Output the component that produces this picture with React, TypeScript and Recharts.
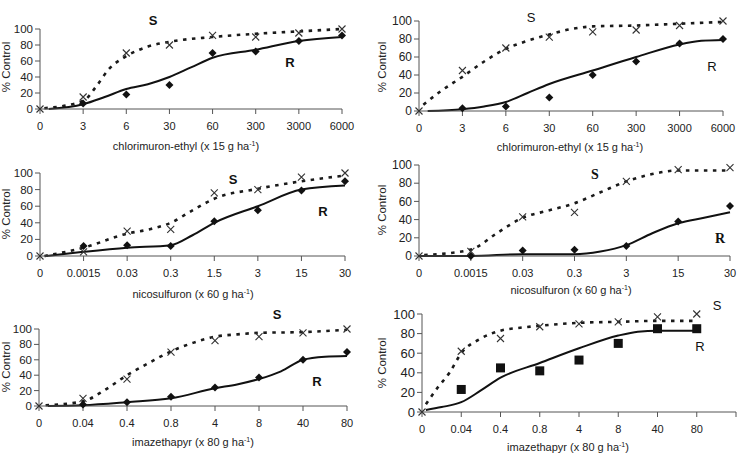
import React from "react";
import { ComposedChart, Line, XAxis, YAxis } from "recharts";

// dose categories (tick labels)
const CHLOR_CATS = ["0", "3", "6", "30", "60", "300", "3000", "6000"];
const NICO_CATS_A = ["0", "0.0015", "0.03", "0.3", "1.5", "3", "15", "30"];
const NICO_CATS_B = ["0", "0.0015", "0.03", "0.3", "3", "15", "30"];
const IMAZ_CATS = ["0", "0.04", "0.4", "0.8", "4", "8", "40", "80"];
const IMAZ_CATS_B = ["0", "0.04", "0.4", "0.8", "4", "8", "40", "80", ""];

// panel 1 - chlorimuron, left
const P1_S_OBS = [0, 15, 70, 80, 92, 90, 95, 100];
const P1_R_OBS = [null, 7, 18, 30, 70, 72, 85, 92];
const P1_S_FIT_X = [0.1, 1, 1.3, 1.6, 2, 2.5, 3, 4, 5, 6, 7];
const P1_S_FIT_Y = [1, 10, 28, 50, 66, 78, 84, 90, 94, 97, 100];
const P1_R_FIT_X = [0.2, 1, 1.5, 2, 2.5, 3, 3.5, 4, 5, 6, 7];
const P1_R_FIT_Y = [0, 6, 15, 25, 31, 40, 52, 64, 74, 85, 90];

// panel 2 - chlorimuron, right
const P2_S_OBS = [0, 45, 70, 82, 88, 90, 95, 100];
const P2_R_OBS = [null, 3, 5, 15, 40, 55, 75, 80];
const P2_S_FIT_X = [0.1, 0.5, 1, 1.5, 2, 2.5, 3, 3.5, 4, 5, 6, 7];
const P2_S_FIT_Y = [7, 22, 38, 55, 69, 78, 85, 91, 94, 95, 97, 99];
const P2_R_FIT_X = [0.2, 1, 1.5, 2, 2.5, 3, 4, 5, 6, 6.5, 7];
const P2_R_FIT_Y = [0, 2, 5, 10, 20, 30, 45, 60, 74, 78, 79];

// panel 3 - nicosulfuron, left
const P3_S_OBS = [0, 5, 30, 32, 76, 80, 95, 100];
const P3_R_OBS = [null, 12, 13, 12, 42, 55, 79, 90];
const P3_S_FIT_X = [0.1, 0.5, 1, 2, 2.5, 3, 3.5, 4, 5, 6, 7];
const P3_S_FIT_Y = [0, 4, 10, 27, 32, 40, 55, 69, 81, 90, 97];
const P3_R_FIT_X = [0.15, 1, 2, 3, 3.5, 4, 5, 6, 7];
const P3_R_FIT_Y = [0, 5, 10, 13, 25, 40, 60, 80, 85];

// panel 4 - nicosulfuron, right
const P4_S_OBS = [0, 5, 43, 48, 82, 95, 97];
const P4_R_OBS = [null, 0, 6, 7, 11, 38, 55];
const P4_S_FIT_X = [0.1, 1, 1.5, 2, 2.5, 3, 3.5, 4, 4.5, 5, 6];
const P4_S_FIT_Y = [1, 7, 25, 42, 50, 58, 70, 82, 90, 94, 94];
const P4_R_FIT_X = [0, 1, 2, 3, 3.5, 4, 4.5, 5, 5.5, 6];
const P4_R_FIT_Y = [0, 0, 2, 2, 5, 12, 25, 36, 42, 48];

// panel 5 - imazethapyr, left
const P5_S_OBS = [0, 10, 35, 70, 85, 90, 95, 100];
const P5_R_OBS = [null, 2, 5, 12, 24, 37, 60, 70];
const P5_S_FIT_X = [0.15, 1, 1.5, 2, 2.5, 3, 3.5, 4, 4.5, 5, 6, 7];
const P5_S_FIT_Y = [1, 6, 21, 40, 56, 71, 82, 90, 93, 95, 96, 99];
const P5_R_FIT_X = [0.2, 1, 2, 3, 4, 4.5, 5, 5.5, 6, 6.5, 7];
const P5_R_FIT_Y = [0, 1, 5, 10, 23, 28, 35, 45, 60, 64, 65];

// panel 6 - imazethapyr, right
const P6_S_OBS = [0, 62, 75, 87, 90, 92, 97, 100];
const P6_R_OBS = [null, 23, 45, 42, 53, 70, 85, 85];
const P6_S_FIT_X = [0.1, 0.4, 0.7, 1, 1.5, 2, 2.5, 3, 4, 5, 6, 7];
const P6_S_FIT_Y = [8, 25, 40, 60, 75, 83, 86, 88, 91, 92, 93, 93];
const P6_R_FIT_X = [0.1, 0.5, 1, 1.5, 2, 3, 4, 5, 5.5, 6, 7];
const P6_R_FIT_Y = [2, 5, 10, 22, 35, 50, 65, 78, 82, 83, 83];

const FONT = "'Liberation Sans', Arial, sans-serif";
const Y_TICKS = [0, 20, 40, 60, 80, 100];

const toPoints = (ys: (number | null)[]) =>
  ys.map((y, i) => ({ x: i, y })).filter((d) => d.y !== null);
const toFit = (xs: number[], ys: number[]) => xs.map((x, i) => ({ x, y: ys[i] }));

const crossDot = (p: any) => {
  const { cx, cy, index } = p;
  if (cx == null || cy == null) return <g key={index} />;
  const s = 3.5;
  return (
    <path
      key={index}
      d={`M${cx - s},${cy - s}L${cx + s},${cy + s}M${cx + s},${cy - s}L${cx - s},${cy + s}`}
      stroke="#333"
      strokeWidth={1.1}
      fill="none"
    />
  );
};

const diamondDot = (p: any) => {
  const { cx, cy, index } = p;
  if (cx == null || cy == null) return <g key={index} />;
  const s = 4;
  return <path key={index} d={`M${cx},${cy - s}L${cx + s},${cy}L${cx},${cy + s}L${cx - s},${cy}Z`} fill="#111" />;
};

const squareDot = (p: any) => {
  const { cx, cy, index } = p;
  if (cx == null || cy == null) return <g key={index} />;
  return <rect key={index} x={cx - 4.5} y={cy - 4.5} width={9} height={9} fill="#111" />;
};

type PanelProps = {
  x0: number;
  x1: number;
  y100: number;
  y0: number;
  cats: string[];
  sObs: (number | null)[];
  rObs: (number | null)[];
  sFitX: number[];
  sFitY: number[];
  rFitX: number[];
  rFitY: number[];
  square?: boolean;
  yFont?: number;
};

function Panel(props: PanelProps) {
  const { x0, x1, y100, y0, cats } = props;
  const yw = 45;
  const top = 8;
  const xh = 30;
  const right = 18;
  const maxX = cats.length - 1;
  const ticks = cats.map((_, i) => i);
  const width = x1 - x0 + yw + right;
  const height = y0 - y100 + top + xh;
  return (
    <div style={{ position: "absolute", left: x0 - yw, top: y100 - top }}>
      <ComposedChart width={width} height={height} margin={{ top, right, left: 0, bottom: 0 }}>
        <XAxis
          type="number"
          dataKey="x"
          domain={[0, maxX]}
          ticks={ticks}
          interval={0}
          tickFormatter={(v) => cats[v] ?? ""}
          tick={{ fontSize: 11, fill: "#222", fontFamily: FONT }}
          tickSize={5}
          tickMargin={8}
          stroke="#555"
          height={xh}
        />
        <YAxis
          type="number"
          domain={[0, 100]}
          ticks={Y_TICKS}
          interval={0}
          tick={{ fontSize: props.yFont ?? 11.5, fill: "#222", fontFamily: FONT }}
          tickSize={5}
          stroke="#555"
          width={yw}
        />
        <Line
          data={toFit(props.sFitX, props.sFitY)}
          dataKey="y"
          type="monotone"
          stroke="#1a1a1a"
          strokeWidth={2.6}
          strokeDasharray="3.5 5.5"
          dot={false}
          isAnimationActive={false}
        />
        <Line
          data={toFit(props.rFitX, props.rFitY)}
          dataKey="y"
          type="monotone"
          stroke="#111"
          strokeWidth={2}
          dot={false}
          isAnimationActive={false}
        />
        <Line
          data={toPoints(props.sObs)}
          dataKey="y"
          stroke="none"
          dot={crossDot}
          activeDot={false}
          isAnimationActive={false}
        />
        <Line
          data={toPoints(props.rObs)}
          dataKey="y"
          stroke="none"
          dot={props.square ? squareDot : diamondDot}
          activeDot={false}
          isAnimationActive={false}
        />
      </ComposedChart>
    </div>
  );
}

function Label({ x, y, text, bold, serif, size = 13 }: any) {
  return (
    <div
      style={{
        position: "absolute",
        left: x,
        top: y,
        transform: "translate(-50%, -50%)",
        fontFamily: serif ? "'Liberation Serif', 'Times New Roman', serif" : FONT,
        fontWeight: bold ? "bold" : "normal",
        fontSize: size,
        color: "#111",
        whiteSpace: "nowrap",
        lineHeight: 1,
      }}
    >
      {text}
    </div>
  );
}

function Title({ x, y, name, rate }: any) {
  return (
    <div
      style={{
        position: "absolute",
        left: x,
        top: y,
        transform: "translate(-50%, -50%)",
        fontFamily: FONT,
        fontSize: 11,
        color: "#222",
        whiteSpace: "nowrap",
        lineHeight: 1,
      }}
    >
      {name} (x {rate} g ha<sup style={{ fontSize: 7 }}>-1</sup>)
    </div>
  );
}

function YTitle({ x, y }: any) {
  return (
    <div
      style={{
        position: "absolute",
        left: x,
        top: y,
        transform: "translate(-50%, -50%) rotate(-90deg)",
        fontFamily: FONT,
        fontSize: 11.5,
        color: "#222",
        whiteSpace: "nowrap",
        lineHeight: 1,
      }}
    >
      % Control
    </div>
  );
}

export default function App() {
  return (
    <div
      style={{
        position: "absolute",
        left: 0,
        top: 0,
        width: 741,
        height: 460,
        overflow: "hidden",
        background: "#fff",
      }}
    >
      <Panel x0={40} x1={342} y100={29} y0={109} cats={CHLOR_CATS} sObs={P1_S_OBS} rObs={P1_R_OBS}
        sFitX={P1_S_FIT_X} sFitY={P1_S_FIT_Y} rFitX={P1_R_FIT_X} rFitY={P1_R_FIT_Y} />
      <Panel x0={419} x1={723} y100={21} y0={111} cats={CHLOR_CATS} sObs={P2_S_OBS} rObs={P2_R_OBS}
        sFitX={P2_S_FIT_X} sFitY={P2_S_FIT_Y} rFitX={P2_R_FIT_X} rFitY={P2_R_FIT_Y} yFont={12} />
      <Panel x0={40} x1={345} y100={173} y0={256} cats={NICO_CATS_A} sObs={P3_S_OBS} rObs={P3_R_OBS}
        sFitX={P3_S_FIT_X} sFitY={P3_S_FIT_Y} rFitX={P3_R_FIT_X} rFitY={P3_R_FIT_Y} />
      <Panel x0={419} x1={730} y100={165} y0={256} cats={NICO_CATS_B} sObs={P4_S_OBS} rObs={P4_R_OBS}
        sFitX={P4_S_FIT_X} sFitY={P4_S_FIT_Y} rFitX={P4_R_FIT_X} rFitY={P4_R_FIT_Y} yFont={12} />
      <Panel x0={39} x1={347} y100={329} y0={406} cats={IMAZ_CATS} sObs={P5_S_OBS} rObs={P5_R_OBS}
        sFitX={P5_S_FIT_X} sFitY={P5_S_FIT_Y} rFitX={P5_R_FIT_X} rFitY={P5_R_FIT_Y} />
      <Panel x0={422} x1={736} y100={314} y0={412} cats={IMAZ_CATS_B} sObs={P6_S_OBS} rObs={P6_R_OBS}
        sFitX={P6_S_FIT_X} sFitY={P6_S_FIT_Y} rFitX={P6_R_FIT_X} rFitY={P6_R_FIT_Y} square yFont={13} />

      <YTitle x={7} y={67} />
      <YTitle x={383} y={67} />
      <YTitle x={7} y={214} />
      <YTitle x={383} y={210} />
      <YTitle x={7} y={367} />
      <YTitle x={383} y={363} />

      <Title x={186} y={146} name="chlorimuron-ethyl" rate="15" />
      <Title x={570} y={147} name="chlorimuron-ethyl" rate="15" />
      <Title x={193} y={294} name="nicosulfuron" rate="60" />
      <Title x={571} y={290} name="nicosulfuron" rate="60" />
      <Title x={193} y={442} name="imazethapyr" rate="80" />
      <Title x={568} y={447} name="imazethapyr" rate="80" />

      <Label x={153} y={20} text="S" bold />
      <Label x={290} y={62} text="R" bold />
      <Label x={531} y={17} text="S" />
      <Label x={712} y={66} text="R" />
      <Label x={233} y={179} text="S" bold />
      <Label x={323} y={211} text="R" bold />
      <Label x={595} y={175} text="S" bold serif size={14} />
      <Label x={720} y={239} text="R" bold serif size={14} />
      <Label x={277} y={314} text="S" bold />
      <Label x={317} y={381} text="R" bold />
      <Label x={717} y={305} text="S" />
      <Label x={700} y={346} text="R" />
    </div>
  );
}
